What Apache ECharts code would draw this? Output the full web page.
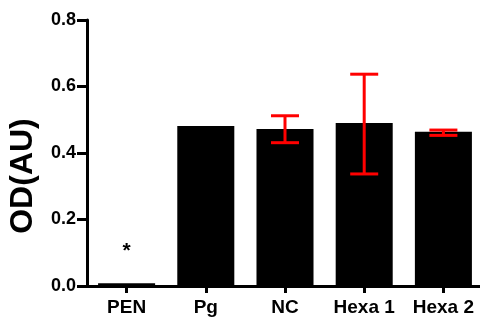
<!DOCTYPE html>
<html>
<head>
<meta charset="utf-8">
<script src="https://cdn.jsdelivr.net/npm/echarts@6/dist/echarts.min.js"></script>
<style>
  html, body { margin: 0; padding: 0; background: #fff; }
  #chart { width: 480px; height: 320px; }
</style>
</head>
<body>
<div id="chart"></div>
<script>
const categories = ['PEN', 'Pg', 'NC', 'Hexa 1', 'Hexa 2'];
const means = [0.008, 0.481, 0.472, 0.49, 0.464];
const errLow = [null, null, 0.431, 0.337, 0.453];
const errHigh = [null, null, 0.512, 0.637, 0.469];
const marks = ['*', '', '', '', ''];

const myChart = echarts.init(document.getElementById('chart'));

const errData = categories.map((c, i) => [i, errLow[i], errHigh[i]]).filter(d => d[1] != null);

const options = {
  animation: false,
  grid: { left: 87, width: 396, top: 20, bottom: 34, containLabel: false, outerBoundsMode: 'none' },
  xAxis: {
    type: 'category',
    data: categories,
    axisLine: { lineStyle: { color: '#000', width: 3 } },
    axisTick: { show: true, alignWithLabel: true, length: 7, lineStyle: { color: '#000', width: 3 } },
    axisLabel: { interval: 0, color: '#000', fontSize: 19, fontWeight: 'bold', fontFamily: 'Liberation Sans, Arial',
      margin: 4, padding: [8, 0, 0, 0] }
  },
  yAxis: {
    type: 'value',
    min: 0, max: 0.8, interval: 0.2,
    name: 'OD(AU)',
    nameLocation: 'middle',
    nameGap: 48,
    nameTextStyle: { color: '#000', fontSize: 32, fontWeight: 'bold', fontFamily: 'Liberation Sans, Arial', padding: [0, 46, 0, 0] },
    splitLine: { show: false },
    axisLine: { show: true, lineStyle: { color: '#000', width: 3 } },
    axisTick: { show: true, length: 10, lineStyle: { color: '#000', width: 3 } },
    axisLabel: { color: '#000', fontSize: 18, fontWeight: 'bold', fontFamily: 'Liberation Sans, Arial',
      margin: 3, padding: [0, 8, 0, 0],
      formatter: v => v.toFixed(1) }
  },
  series: [
    {
      type: 'bar',
      barWidth: '72%',
      data: means,
      itemStyle: { color: '#000' },
      label: {
        show: true, position: 'top', distance: 22,
        formatter: p => marks[p.dataIndex],
        color: '#000', fontSize: 21, fontWeight: 'bold', fontFamily: 'Liberation Sans, Arial'
      }
    },
    {
      type: 'custom',
      data: errData,
      z: 10,
      renderItem: (params, api) => {
        const x = api.value(0);
        const lo = api.coord([x, api.value(1)]);
        const hi = api.coord([x, api.value(2)]);
        const hw = 14;
        const style = { stroke: '#ff0000', lineWidth: 3 };
        return {
          type: 'group',
          children: [
            { type: 'line', shape: { x1: lo[0], y1: lo[1], x2: hi[0], y2: hi[1] }, style },
            { type: 'line', shape: { x1: lo[0] - hw, y1: lo[1], x2: lo[0] + hw, y2: lo[1] }, style },
            { type: 'line', shape: { x1: hi[0] - hw, y1: hi[1], x2: hi[0] + hw, y2: hi[1] }, style }
          ]
        };
      }
    }
  ]
};

myChart.setOption(options);
</script>
</body>
</html>
